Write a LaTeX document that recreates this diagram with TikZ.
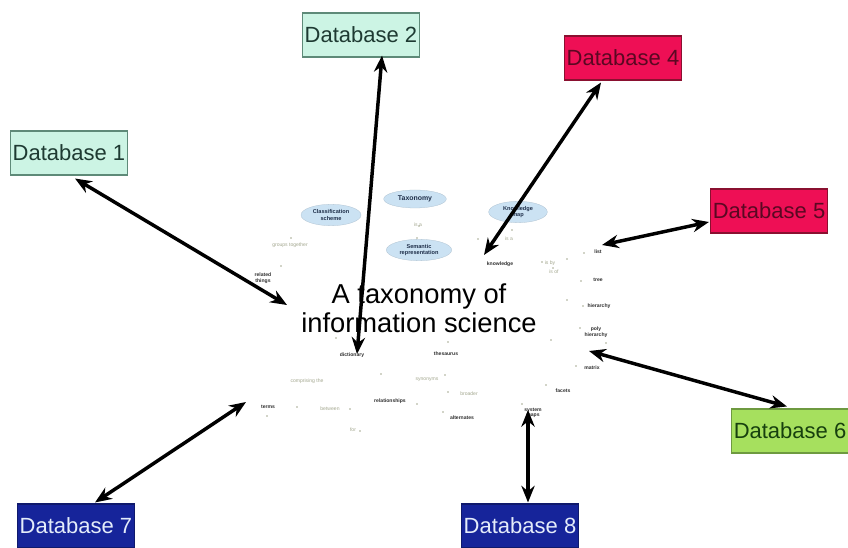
\documentclass[tikz,border=0pt]{standalone}
\usepackage{fontspec}
\setmainfont{Liberation Sans}
\usetikzlibrary{arrows.meta,shapes.geometric,calc}

\definecolor{mintfill}{HTML}{CCF4E4}
\definecolor{mintline}{HTML}{5E8A78}
\definecolor{minttext}{HTML}{1E3A32}
\definecolor{redfill}{HTML}{EE0F55}
\definecolor{redline}{HTML}{8A1030}
\definecolor{redtext}{HTML}{5A0822}
\definecolor{limefill}{HTML}{A6E05E}
\definecolor{limeline}{HTML}{6E9A40}
\definecolor{limetext}{HTML}{17400E}
\definecolor{navyfill}{HTML}{16249A}
\definecolor{navytext}{HTML}{E4ECFA}
\definecolor{bubble}{HTML}{CBE2F3}
\definecolor{bubbletext}{HTML}{1F2F4A}
\definecolor{faint}{HTML}{A4A890}
\definecolor{dark}{HTML}{2E2E2E}

\tikzset{
  dbbox/.style={rectangle, draw, line width=0.8pt, inner sep=0pt,
    minimum width=87.75pt, minimum height=33pt,
    font=\fontsize{16.5}{18}\selectfont},
  dbmint/.style={dbbox, fill=mintfill, draw=mintline, text=minttext},
  dbred/.style={dbbox, fill=redfill, draw=redline, text=redtext},
  dblime/.style={dbbox, fill=limefill, draw=limeline, text=limetext},
  dbnavy/.style={dbbox, fill=navyfill, draw=navyfill!70!black, text=navytext},
  link/.style={line width=2.6pt, {Stealth[length=12.5pt,width=10pt]}-{Stealth[length=12.5pt,width=10pt]}},
  bubblenode/.style={ellipse, fill=bubble, draw=bubble!85!black, line width=0.2pt,
    inner sep=0pt, text=bubbletext, align=center,
    font=\fontsize{4.2}{4.8}\selectfont\bfseries},
  lbl/.style={inner sep=0pt, align=center, text=dark,
    font=\fontsize{3.8}{4.3}\selectfont\bfseries},
  lblfaint/.style={inner sep=0pt, align=center, text=faint,
    font=\fontsize{3.8}{4.3}\selectfont},
  speck/.style={fill=faint, draw=none},
  title/.style={inner sep=0pt, align=center, text=black,
    font=\fontsize{20.5}{21.8}\selectfont}
}

\begin{document}
\begin{tikzpicture}[x=0.75pt,y=-0.75pt]
\useasboundingbox (0,0) rectangle (848,548);
\clip (0,0) rectangle (848,548);
\fill[white] (0,0) rectangle (848,548);

% central map: bubbles
\node[bubblenode, minimum width=45pt, minimum height=16pt] (cls) at (331,215) {Classification\\scheme};
\node[bubblenode, minimum width=47pt, minimum height=13.5pt, font=\fontsize{5.2}{6}\selectfont\bfseries] (tax) at (415,199) {Taxonomy};
\node[bubblenode, minimum width=49pt, minimum height=16pt] (sem) at (419,250) {Semantic\\representation};
\node[bubblenode, minimum width=44pt, minimum height=16pt] (kmap) at (518,212) {Knowledge\\map};

% central map: small labels
\node[lblfaint] (l1) at (290,245) {groups together};
\node[lbl] (l2) at (263,278) {related\\things};
\node[lblfaint] (l3) at (418,225) {is a};
\node[lblfaint] (l4) at (509,239) {is a};
\node[lbl] (l5) at (500,264) {knowledge};
\node[lblfaint] (l6) at (550,263) {is by};
\node[lblfaint] (l7) at (554,272) {is of};
\node[lbl] (l8) at (598,252) {list};
\node[lbl] (l9) at (598,280) {tree};
\node[lbl] (l10) at (599,306) {hierarchy};
\node[lbl] (l11) at (596,332) {poly\\hierarchy};
\node[lbl] (l12) at (592,368) {matrix};
\node[lbl] (l13) at (563,391) {facets};
\node[lbl] (l14) at (533,413) {system\\maps};
\node[lbl] (l15) at (352,355) {dictionary};
\node[lbl] (l16) at (446,354) {thesaurus};
\node[lblfaint] (l17) at (307,381) {comprising the};
\node[lblfaint] (l18) at (427,380) {synonyms};
\node[lbl] (l19) at (268,407) {terms};
\node[lblfaint] (l20) at (330,409) {between};
\node[lbl] (l21) at (390,401) {relationships};
\node[lblfaint] (l22) at (469,394) {broader};
\node[lbl] (l23) at (462,418) {alternates};
\node[lblfaint] (l24) at (353,430) {for};

% faint connector ends
\foreach \p in {(291,238),(281,266),(417,238),(419,226),(478,239),(512,230),(542,262),(553,268),
  (584,253),(567,259),(581,281),(583,306),(580,328),(576,366),(546,385),(522,404),
  (336,338),(448,342),(381,374),(445,375),(297,407),(350,409),(360,431),(417,404),
  (448,392),(443,412),(267,416),(567,300),(551,340),(606,343)}
  \fill[speck] \p circle (0.9);

% title in the middle of the map
\node[title] (centre) at (419,308) {A taxonomy of\\information science};

% databases
\node[dbmint] (db1) at (69,153) {Database 1};
\node[dbmint] (db2) at (361,35) {Database 2};
\node[dbred]  (db4) at (623,58) {Database 4};
\node[dbred]  (db5) at (769,211) {Database 5};
\node[dblime] (db6) at (790,431) {Database 6};
\node[dbnavy] (db7) at (76,526) {Database 7};
\node[dbnavy] (db8) at (520,526) {Database 8};

% inner ends of the links
\coordinate (e1) at (287,305);
\coordinate (e2) at (357,354);
\coordinate (e4) at (484,255);
\coordinate (e5) at (602,245);
\coordinate (e6) at (589,351);
\coordinate (e7) at (246,402);
\coordinate (e8) at (528,410);

% links
\draw[link] ($(db1.south)+(6,3)$) -- (e1);
\draw[link] ($(db2.south)+(21,-2)$) -- (e2);
\draw[link] ($(db4.south)+(-22,2)$) -- (e4);
\draw[link] ($(db5.west)+(-1,11)$) -- (e5);
\draw[link] ($(db6.north)+(-3,-2)$) -- (e6);
\draw[link] ($(db7.north)+(19,-1)$) -- (e7);
\draw[link] ($(db8.north)+(8,-1)$) -- (e8);
\end{tikzpicture}
\end{document}
